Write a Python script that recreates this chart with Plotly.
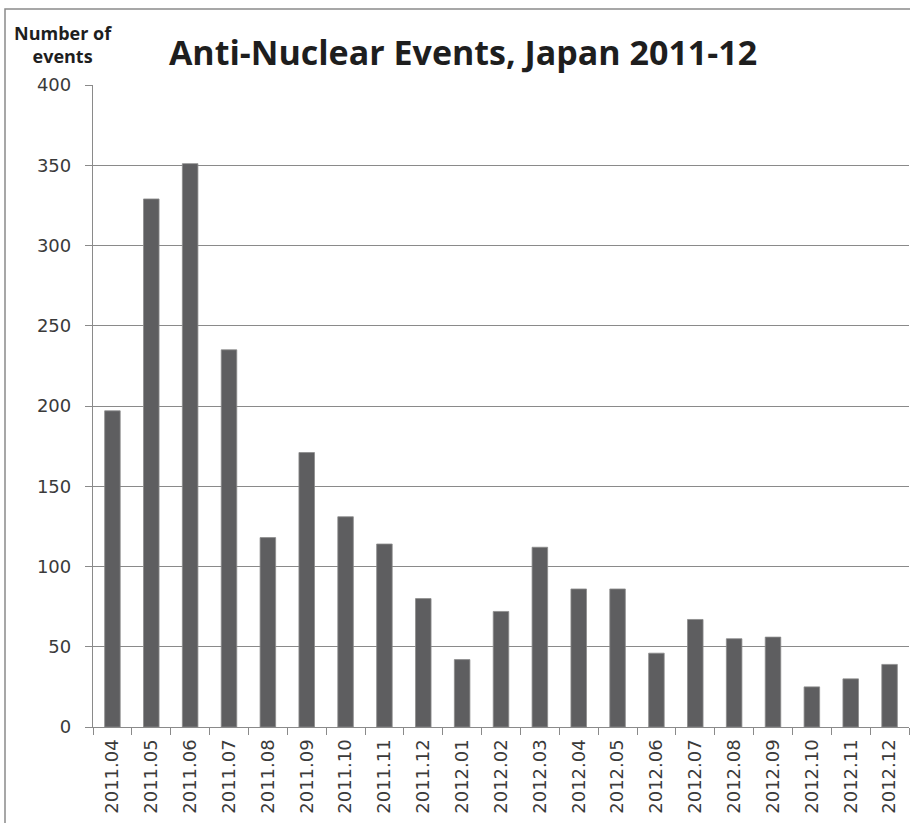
import plotly.graph_objects as go

months = [
    "2011.04", "2011.05", "2011.06", "2011.07", "2011.08", "2011.09",
    "2011.10", "2011.11", "2011.12", "2012.01", "2012.02", "2012.03",
    "2012.04", "2012.05", "2012.06", "2012.07", "2012.08", "2012.09",
    "2012.10", "2012.11", "2012.12",
]
events = [197, 329, 351, 235, 118, 171, 131, 114, 80, 42, 72, 112,
          86, 86, 46, 67, 55, 56, 25, 30, 39]
y_ticks = [0, 50, 100, 150, 200, 250, 300, 350, 400]

W, H = 910, 823
ML, MR, MT, MB = 93, 1, 85, 96
pw, ph = W - ML - MR, H - MT - MB

def px_x(x):
    return (x - ML) / pw

def px_y(y):
    return (H - MB - y) / ph

grid = "#8a8a8a"
label_font = dict(family="DejaVu Sans", size=18, color="#3a3a3a")

fig = go.Figure(
    go.Bar(
        x=months,
        y=events,
        marker=dict(color="#5e5e60", line=dict(color="#8c8c8c", width=0.8)),
        hoverinfo="x+y",
    )
)

fig.update_layout(
    width=W,
    height=H,
    margin=dict(l=ML, r=MR, t=MT, b=MB),
    paper_bgcolor="white",
    plot_bgcolor="white",
    bargap=0.6,
    showlegend=False,
    title=dict(
        text="<b>Anti-Nuclear Events, Japan 2011-12</b>",
        font=dict(family="Open Sans", size=34, color="#1e1e1e"),
        x=463 / W,
        xanchor="center",
        y=1 - 53 / H,
        yanchor="middle",
    ),
    annotations=[
        dict(
            text="<b>Number of<br>events</b>",
            xref="paper", yref="paper",
            x=px_x(63), y=px_y(45),
            xanchor="center", yanchor="middle",
            showarrow=False,
            align="center",
            font=dict(family="Open Sans", size=18, color="#1e1e1e"),
        )
    ],
    shapes=[
        dict(
            type="path",
            xref="paper", yref="paper",
            path=f"M {px_x(5)} {px_y(H + 20)} L {px_x(5)} {px_y(9)} L {px_x(W + 20)} {px_y(9)}",
            line=dict(color="#8a8a8a", width=1.5),
        )
    ],
)

fig.update_xaxes(
    type="category",
    showline=True,
    linecolor=grid,
    linewidth=1.3,
    ticks="outside",
    tickson="boundaries",
    ticklen=7,
    tickcolor=grid,
    tickwidth=1.3,
    tickangle=-90,
    tickfont=label_font,
    ticklabelstandoff=4,
    showgrid=False,
)

fig.update_yaxes(
    range=[0, 400],
    tickvals=y_ticks,
    showline=True,
    linecolor=grid,
    linewidth=1.3,
    ticks="outside",
    ticklen=7,
    tickcolor=grid,
    tickwidth=1.3,
    tickfont=label_font,
    ticklabelstandoff=10,
    showgrid=True,
    gridcolor=grid,
    gridwidth=1.3,
    zeroline=False,
)

fig.write_html("out.html")
